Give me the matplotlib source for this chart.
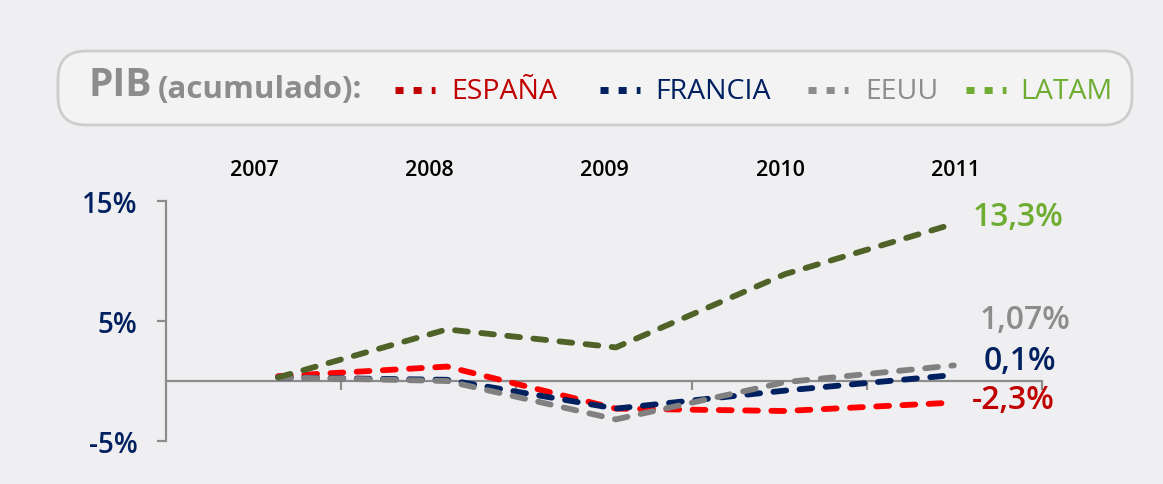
import numpy as np
import matplotlib
matplotlib.use("Agg")
import matplotlib.pyplot as plt
from matplotlib.lines import Line2D
from matplotlib.patches import FancyBboxPatch
from matplotlib.transforms import blended_transform_factory

plt.rcParams["font.family"] = ["Open Sans", "DejaVu Sans"]

# ==============================
# Data (PIB acumulado, %)
# ==============================
years = ["2007", "2008", "2009", "2010", "2011"]
series_names = ["ESPAÑA", "FRANCIA", "EEUU", "LATAM"]
espana = [0.4, 1.2, -2.3, -2.5, -1.8]
francia = [0.3, 0.1, -2.3, -0.8, 0.5]
eeuu = [0.3, 0.0, -3.2, -0.1, 1.3]
latam = [0.3, 4.3, 2.8, 8.9, 13.1]
end_labels = ["-2,3%", "0,1%", "1,07%", "13,3%"]
y_ticks = [-5, 5, 15]
y_tick_labels = ["-5%", "5%", "15%"]

# ==============================
# Styling
# ==============================
line_colors = ["#FF0000", "#002060", "#808080", "#4F6228"]
text_colors = ["#C00000", "#002060", "#8C8C8C", "#6EAD32"]
end_offsets = [(18, 3), (30, 14), (26, 46), (19, 7)]  # pixels from last point
W, H = 1163, 485
bg = "#EFEFF1"
axis_gray = "#8C8C8C"


def fx(x):
    return x / W


def fy(y):
    return 1 - y / H


fig = plt.figure(figsize=(W / 100, H / 100), dpi=100, facecolor=bg)

# legend box
box = FancyBboxPatch((0.58, 3.59), 10.74, 0.74,
                     boxstyle="round,pad=0,rounding_size=0.28",
                     transform=fig.dpi_scale_trans,
                     facecolor="#F3F3F4", edgecolor="#CDCDCD", linewidth=2)
fig.patches.append(box)

fig.text(fx(88), fy(86), "PIB", fontsize=28, fontweight="bold",
         color=axis_gray, va="center", ha="left")
fig.text(fx(158), fy(90), "(acumulado):", fontsize=22.5, fontweight="bold",
         color=axis_gray, va="center", ha="left")

marker_x = [395, 600, 808, 966]
label_x = [451, 655, 865, 1020]
for name, tc, mx, lx in zip(series_names, text_colors, marker_x, label_x):
    fig.add_artist(Line2D([fx(mx), fx(mx + 40)], [fy(91), fy(91)],
                          transform=fig.transFigure, color=tc,
                          linewidth=5, dash_capstyle="butt",
                          dashes=(1.16, 1.45)))
    fig.text(fx(lx), fy(92), name, fontsize=20.5, color=tc,
             va="center", ha="left")

# ==============================
# Chart axes
# ==============================
ax = fig.add_axes([fx(166), 43 / H, 876 / W, 240 / H])
ax.set_facecolor("none")
ax.set_xlim(-0.663, 4.521)
ax.set_ylim(-5, 15)

step = 1.037
bounds = [-0.663 + step * i for i in range(1, 6)]
centers = [-0.14 + step * i for i in range(len(years))]

for side in ["top", "right"]:
    ax.spines[side].set_visible(False)
ax.spines["bottom"].set_position(("data", 0))
for side in ["left", "bottom"]:
    ax.spines[side].set_color(axis_gray)
    ax.spines[side].set_linewidth(1.6)

ax.set_xticks(bounds)
ax.set_xticklabels([])
ax.set_yticks(y_ticks)
ax.set_yticklabels(y_tick_labels, fontweight="semibold")
ax.tick_params(axis="both", colors=axis_gray, width=1.6, length=6.5)
ax.tick_params(axis="y", labelcolor="#002060", labelsize=20, pad=14)

top_trans = blended_transform_factory(ax.transData, ax.transAxes)
for c, yr in zip(centers, years):
    ax.text(c, 1.133, yr, transform=top_trans, ha="center", va="center",
            fontsize=15.5, fontweight="semibold", color="#000000")

x = np.arange(len(years))
all_series = [espana, francia, eeuu, latam]
for vals, lc in zip(all_series, line_colors):
    ax.plot(x, vals, color=lc, linewidth=4.2, dashes=(2.2, 2.3),
            dash_capstyle="round", solid_joinstyle="round", zorder=3)

for vals, tc, lab, off in zip(all_series, text_colors, end_labels, end_offsets):
    ax.annotate(lab, xy=(x[-1], vals[-1]), xytext=off,
                textcoords="offset pixels", ha="left", va="center",
                fontsize=23, fontweight="semibold", color=tc,
                annotation_clip=False)

fig.savefig("out.png", dpi=100, facecolor=bg)
